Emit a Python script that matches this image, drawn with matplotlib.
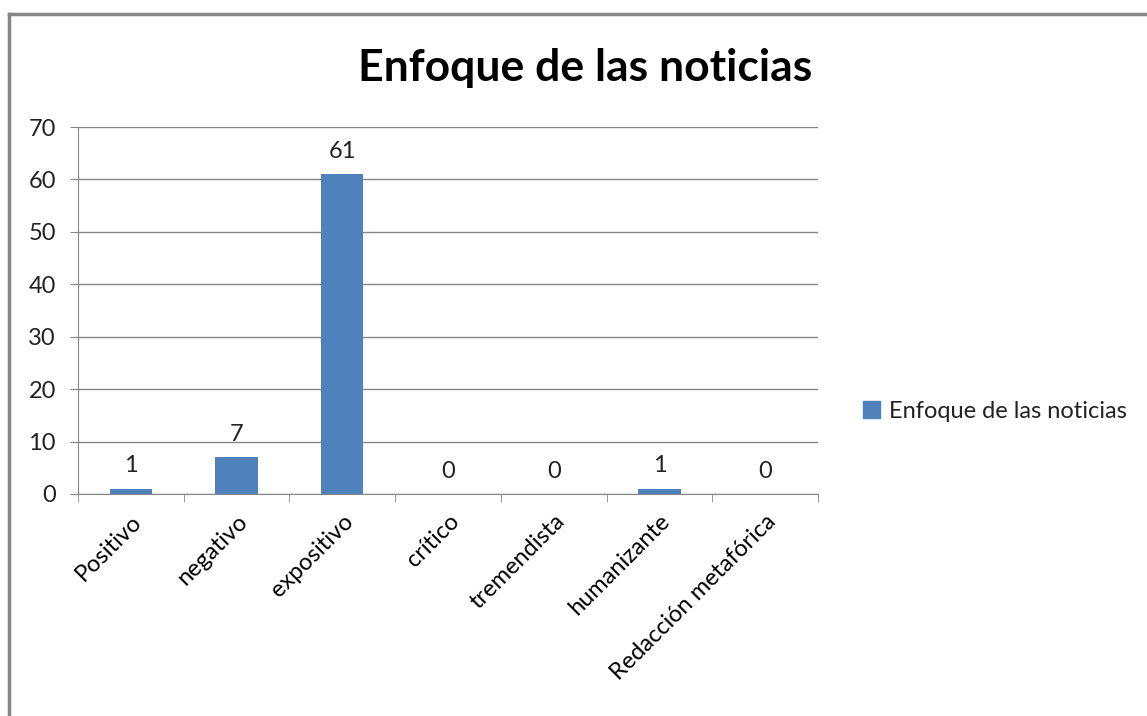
import matplotlib.pyplot as plt
from matplotlib.lines import Line2D
from matplotlib.patches import Patch

categorias = ["Positivo", "negativo", "expositivo", "crítico", "tremendista",
              "humanizante", "Redacción metafórica"]
valores = [1, 7, 61, 0, 0, 1, 0]
serie = "Enfoque de las noticias"
azul = "#4F81BD"

plt.rcParams["font.family"] = ["Lato", "DejaVu Sans"]

fig = plt.figure(figsize=(11.47, 7.16), dpi=100)
ax = fig.add_axes([78 / 1147, 1 - 494 / 716, 740 / 1147, 367 / 716])

x = list(range(len(categorias)))
bars = ax.bar(x, valores, width=0.4, color=azul, zorder=3)
for b, v in zip(bars, valores):
    ax.annotate(str(v), (b.get_x() + b.get_width() / 2, v), xytext=(0, 9),
                textcoords="offset points", ha="center", va="bottom",
                fontsize=17, color="#222222")

ax.set_xlim(-0.5, len(categorias) - 0.5)
ax.set_ylim(0, 70)
ax.set_yticks(range(0, 71, 10))
ax.set_xticks(x)
ax.set_xticklabels(categorias, rotation=45, ha="right", rotation_mode="anchor",
                   fontsize=17)
ax.set_xticks([i - 0.5 for i in range(len(categorias) + 1)], minor=True)
ax.tick_params(axis="x", which="major", length=0, pad=12)
ax.tick_params(axis="x", which="minor", length=6, color="#868686", direction="out")
ax.tick_params(axis="y", length=6, color="#868686", labelsize=17, pad=10,
               labelcolor="#222222")
ax.grid(axis="y", color="#868686", linewidth=1, zorder=0)
for s in ["top", "right"]:
    ax.spines[s].set_visible(False)
for s in ["left", "bottom"]:
    ax.spines[s].set_color("#868686")

fig.text(585 / 1147, 1 - 68 / 716, serie, fontsize=32, fontweight="bold",
         ha="center", va="center")

fig.legend(handles=[Patch(color=azul, label=serie)], loc="center left",
           bbox_to_anchor=(842 / 1147, 1 - 411 / 716), frameon=False,
           fontsize=17, handlelength=0.7, handleheight=0.7, handletextpad=0.4,
           labelcolor="#222222")

# marco exterior del gráfico
fig.add_artist(Line2D([9 / 1147, 9 / 1147], [0, 1 - 14 / 716],
                      transform=fig.transFigure, color="#868686", linewidth=2.5))
fig.add_artist(Line2D([9 / 1147, 1], [1 - 14 / 716, 1 - 14 / 716],
                      transform=fig.transFigure, color="#868686", linewidth=2.5))

fig.savefig("out.png", dpi=100)
